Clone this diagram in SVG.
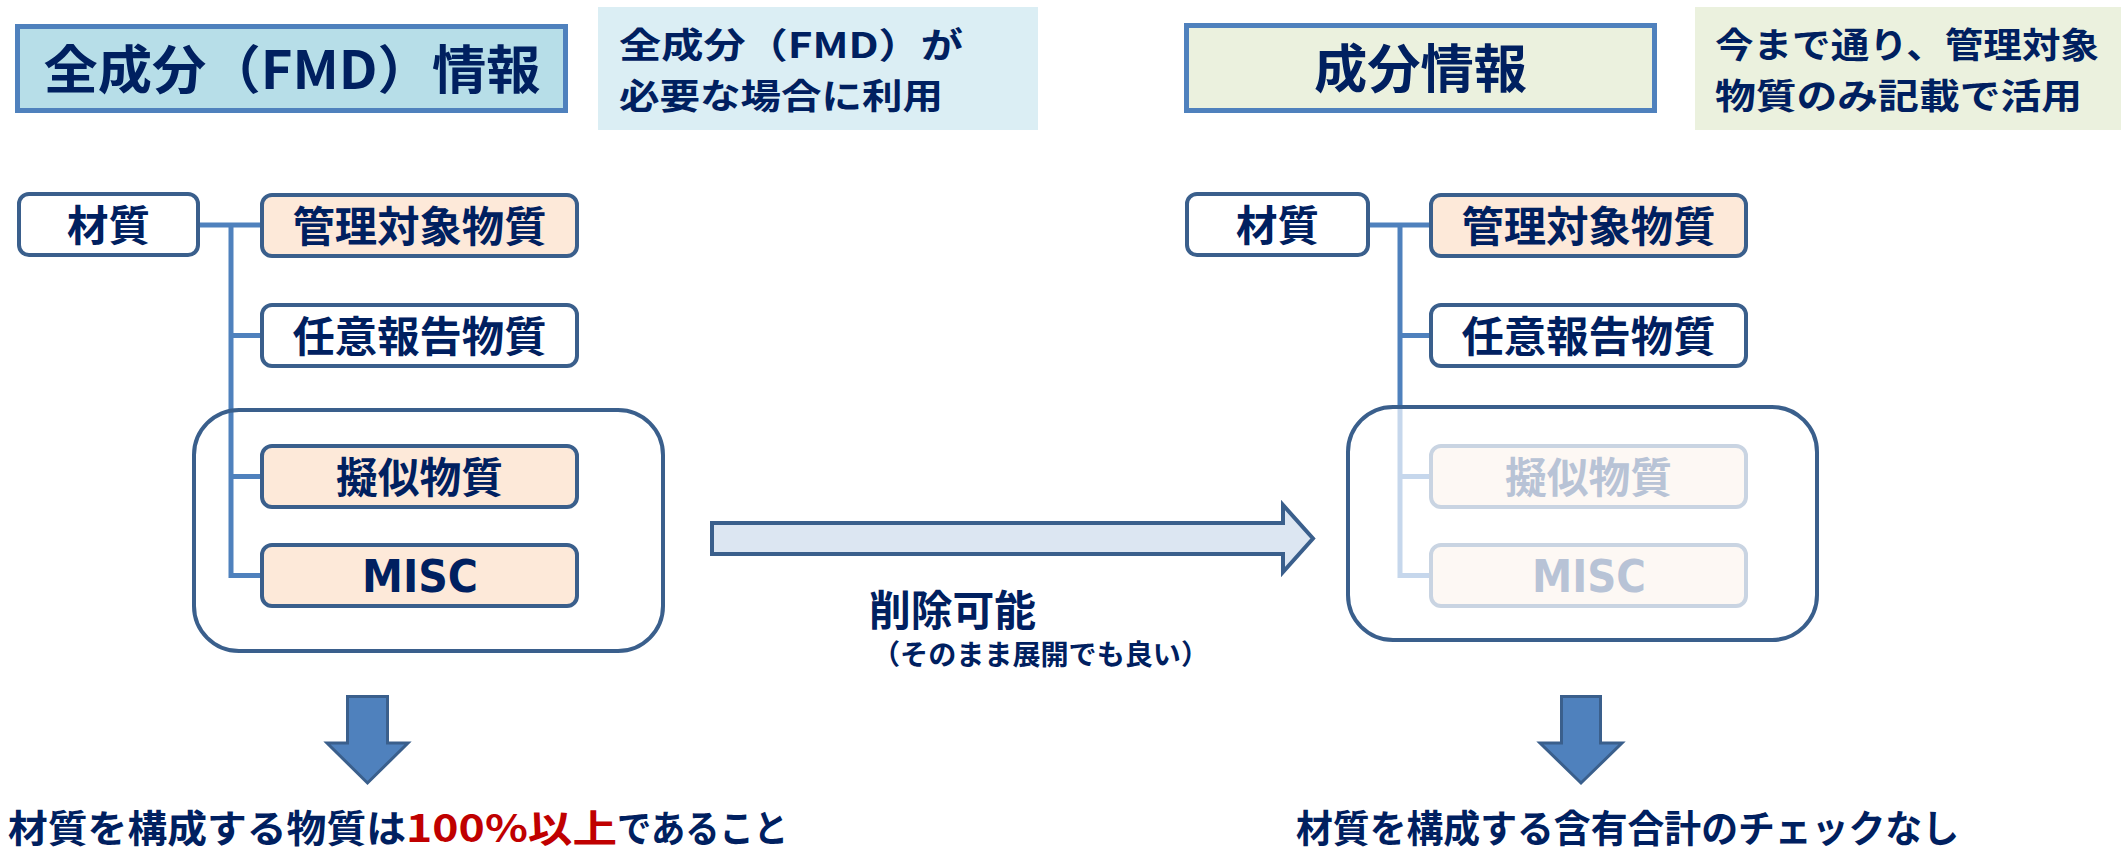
<svg xmlns="http://www.w3.org/2000/svg" width="2121" height="853" viewBox="0 0 2121 853">
<style>
.t{font-family:"Noto Sans CJK JP","Noto Sans CJK SC",sans-serif;font-weight:700;fill:#002060}
.m{text-anchor:middle}
.lat{font-family:"DejaVu Sans","Liberation Sans",sans-serif;font-weight:700;fill:#002060;text-anchor:middle}
.hdr{stroke:#4F81BD;stroke-width:5}
.node{stroke:#3A5F8C;stroke-width:4;fill:#FFFFFF}
.pe{fill:#FDE9D9}
.fade{stroke:#C9D4E2;stroke-width:4;fill:#FDF8F4}
.ft{fill:#B8C3D6}
.conn{stroke:#4F81BD;stroke-width:5;fill:none}
.connf{stroke:#C6D7EC;stroke-width:5;fill:none}
.grp{stroke:#3A5F8C;stroke-width:4;fill:none}
.down{fill:#4F81BD;stroke:#3A5F8C;stroke-width:3}
</style>

<g id="header-left">
<rect class="hdr" x="17.5" y="26.5" width="548" height="84" fill="#B7DEE8"/>
<text class="t m" x="292" y="89" font-size="52" textLength="497" lengthAdjust="spacingAndGlyphs">全成分（FMD）情報</text>
</g>
<g id="note-left">
<rect x="598" y="7" width="440" height="123" fill="#DBEEF4"/>
<text class="t" x="619" y="57.5" font-size="35.5" textLength="344" lengthAdjust="spacingAndGlyphs">全成分（FMD）が</text>
<text class="t" x="619" y="109" font-size="35.5" textLength="324" lengthAdjust="spacingAndGlyphs">必要な場合に利用</text>
</g>
<g id="header-right">
<rect class="hdr" x="1186.5" y="25.5" width="468" height="85" fill="#EBF1DE"/>
<text class="t m" x="1420.5" y="88" font-size="52" textLength="213" lengthAdjust="spacingAndGlyphs">成分情報</text>
</g>
<g id="note-right">
<rect x="1695" y="7" width="426" height="123" fill="#EBF1DE"/>
<text class="t" x="1715" y="57.5" font-size="35.5" textLength="384" lengthAdjust="spacingAndGlyphs">今まで通り、管理対象</text>
<text class="t" x="1715" y="109" font-size="35.5" textLength="367" lengthAdjust="spacingAndGlyphs">物質のみ記載で活用</text>
</g>

<g id="connectors">
<path class="conn" d="M200,225 H260 M231,225 V575.5 H260 M231,335.5 H260 M231,476.5 H260"/>
<path class="conn" d="M1369,225 H1429 M1400,225 V407 M1400,335.5 H1429"/>
<path class="connf" d="M1400,407 V575.5 H1429 M1400,476.5 H1429"/>
</g>

<g id="left-material">
<rect class="node" x="19" y="194" width="179" height="61" rx="10"/>
<text class="t m" x="108.5" y="240.5" font-size="42" textLength="83" lengthAdjust="spacingAndGlyphs">材質</text>
</g>
<g id="left-controlled">
<rect class="node pe" x="262" y="195" width="315" height="61" rx="10"/>
<text class="t m" x="419.5" y="241.5" font-size="42" textLength="254" lengthAdjust="spacingAndGlyphs">管理対象物質</text>
</g>
<g id="left-optional">
<rect class="node" x="262" y="305" width="315" height="61" rx="10"/>
<text class="t m" x="419.5" y="351.5" font-size="42" textLength="254" lengthAdjust="spacingAndGlyphs">任意報告物質</text>
</g>
<g id="left-group">
<rect class="grp" x="194" y="410" width="469" height="241" rx="45"/>
</g>
<g id="left-pseudo">
<rect class="node pe" x="262" y="446" width="315" height="61" rx="10"/>
<text class="t m" x="419.5" y="492.5" font-size="42" textLength="167" lengthAdjust="spacingAndGlyphs">擬似物質</text>
</g>
<g id="left-misc">
<rect class="node pe" x="262" y="545" width="315" height="61" rx="10"/>
<text class="lat" x="420" y="592" font-size="44" textLength="116" lengthAdjust="spacingAndGlyphs">MISC</text>
</g>

<g id="right-material">
<rect class="node" x="1187" y="194" width="181" height="61" rx="10"/>
<text class="t m" x="1277.5" y="240.5" font-size="42" textLength="83" lengthAdjust="spacingAndGlyphs">材質</text>
</g>
<g id="right-controlled">
<rect class="node pe" x="1431" y="195" width="315" height="61" rx="10"/>
<text class="t m" x="1588.5" y="241.5" font-size="42" textLength="254" lengthAdjust="spacingAndGlyphs">管理対象物質</text>
</g>
<g id="right-optional">
<rect class="node" x="1431" y="305" width="315" height="61" rx="10"/>
<text class="t m" x="1588.5" y="351.5" font-size="42" textLength="254" lengthAdjust="spacingAndGlyphs">任意報告物質</text>
</g>
<g id="right-group">
<rect class="grp" x="1348" y="407" width="469" height="233" rx="45"/>
</g>
<g id="right-pseudo">
<rect class="fade" x="1431" y="446" width="315" height="61" rx="10"/>
<text class="t m ft" x="1588.5" y="492.5" font-size="42" textLength="167" lengthAdjust="spacingAndGlyphs">擬似物質</text>
</g>
<g id="right-misc">
<rect class="fade" x="1431" y="545" width="315" height="61" rx="10"/>
<text class="lat ft" x="1589" y="592" font-size="44" textLength="114" lengthAdjust="spacingAndGlyphs">MISC</text>
</g>

<g id="transform-arrow">
<polygon points="712,523 1283,523 1283,505 1313,538.5 1283,572 1283,554 712,554" fill="#DCE6F2" stroke="#3A5F8C" stroke-width="4"/>
<text class="t m" x="952.5" y="626" font-size="42" textLength="167" lengthAdjust="spacingAndGlyphs">削除可能</text>
<text class="t" x="872" y="665" font-size="28" textLength="337" lengthAdjust="spacingAndGlyphs">（そのまま展開でも良い）</text>
</g>

<g id="result-left">
<polygon class="down" points="347.5,696.5 387.5,696.5 387.5,743 408,743 367.5,783 327,743 347.5,743"/>
<text class="t" x="8" y="842" font-size="38" textLength="398" lengthAdjust="spacingAndGlyphs">材質を構成する物質は</text>
<text class="t" x="406" y="842" font-size="38" textLength="211" lengthAdjust="spacingAndGlyphs" style="fill:#C00000">100%以上</text>
<text class="t" x="617" y="842" font-size="38" textLength="171" lengthAdjust="spacingAndGlyphs">であること</text>
</g>
<g id="result-right">
<polygon class="down" points="1561.5,696.5 1600.5,696.5 1600.5,743 1622,743 1581,783 1540,743 1561.5,743"/>
<text class="t" x="1296" y="842" font-size="38" textLength="663" lengthAdjust="spacingAndGlyphs">材質を構成する含有合計のチェックなし</text>
</g>
</svg>
